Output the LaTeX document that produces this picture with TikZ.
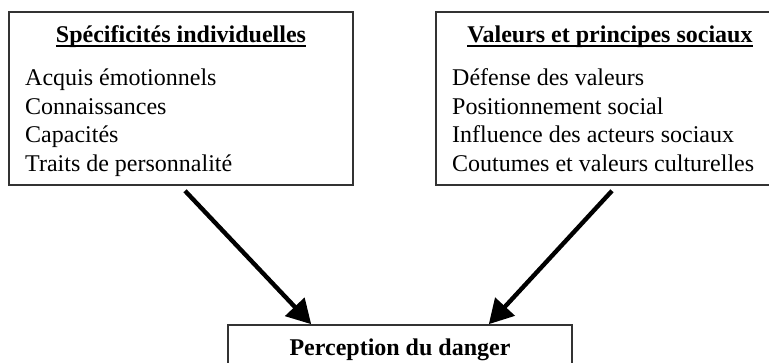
\documentclass[tikz,border=0pt]{standalone}
\usepackage{fontspec}
\setmainfont{Liberation Serif}
\usetikzlibrary{arrows.meta,calc}
\begin{document}
\begin{tikzpicture}[x=1pt,y=-1pt,
  frame/.style={draw=black!80,line width=1.6pt,rectangle,inner sep=0pt,
    minimum width=344pt},
  heading/.style={font=\fontsize{24}{29}\selectfont\bfseries,inner sep=0pt,anchor=base},
  item/.style={font=\fontsize{24}{29}\selectfont,inner sep=0pt,anchor=base west},
  uline/.style={line width=2pt},
  flow/.style={line width=4.4pt,-{Triangle[length=24pt,width=26pt]}}]
  \useasboundingbox (0,0) rectangle (769,363);
  \clip (0,0) rectangle (769,363);

  % the three frames
  \node[frame,minimum height=173pt] (lbox) at (181,98.5) {};
  \node[frame,minimum height=173pt] (rbox) at (608,98.5) {};
  \node[frame,minimum height=80pt] (pbox) at (400,365) {};

  % left frame: individual traits
  \node[heading] (lt) at (181,43) {Spécificités individuelles};
  \draw[uline] ($(lt.base west)+(0pt,-3pt)$) -- ($(lt.base east)+(0pt,-3pt)$);
  \node[item] (l1) at (25,86) {Acquis émotionnels};
  \node[item] (l2) at (25,114.5) {Connaissances};
  \node[item] (l3) at (25,143) {Capacités};
  \node[item] (l4) at (25,172) {Traits de personnalité};

  % right frame: social values
  \node[heading] (rt) at (610,43) {Valeurs et principes sociaux};
  \draw[uline] ($(rt.base west)+(0pt,-3pt)$) -- ($(rt.base east)+(0pt,-3pt)$);
  \node[item] (r1) at (452,86) {Défense des valeurs};
  \node[item] (r2) at (452,114.5) {Positionnement social};
  \node[item] (r3) at (452,143) {Influence des acteurs sociaux};
  \node[item] (r4) at (452,172) {Coutumes et valeurs culturelles};

  % bottom frame
  \node[heading] (pt) at (400,356) {Perception du danger};

  % connectors
  \coordinate (ltail) at ($(lbox.south)+(4pt,-5pt)$);
  \coordinate (rtail) at ($(rbox.south)+(4pt,-5pt)$);
  \coordinate (lhead) at ($(pbox.north west)+(84pt,0pt)$);
  \coordinate (rhead) at ($(pbox.north east)+(-84pt,0pt)$);
  \draw[flow] (ltail) -- (lhead);
  \draw[flow] (rtail) -- (rhead);
\end{tikzpicture}
\end{document}
